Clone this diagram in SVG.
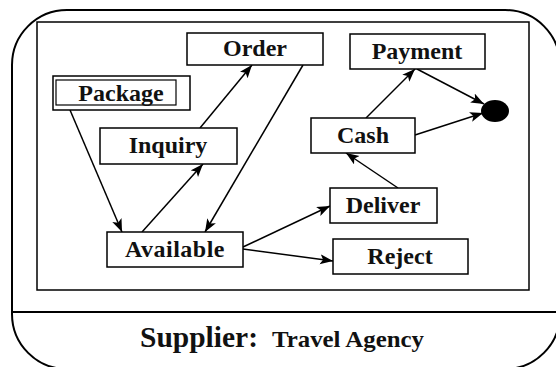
<svg xmlns="http://www.w3.org/2000/svg" width="556" height="367" viewBox="0 0 556 367">
  <style>
    .frame { fill: none; stroke: #000; stroke-width: 2; }
    .box { fill: #fff; stroke: #000; stroke-width: 1.5; }
    .label { font-family: "Liberation Serif", "Times New Roman", serif; font-weight: bold; font-size: 24px; fill: #111; text-anchor: middle; }
    .caption { font-family: "Liberation Serif", "Times New Roman", serif; font-weight: bold; fill: #111; }
    .edge { fill: none; stroke: #000; stroke-width: 1.5; marker-end: url(#arrow); }
  </style>
  <defs>
    <marker id="arrow" markerUnits="userSpaceOnUse" markerWidth="14" markerHeight="12" refX="13" refY="5" orient="auto">
      <path d="M0,0 L13,5 L0,10 L3,5 Z" fill="#000"/>
    </marker>
  </defs>
  <rect width="556" height="367" fill="#fff"/>

  <!-- swimlane frame -->
  <g id="lane">
    <rect class="frame" x="12" y="10" width="548" height="359" rx="55" ry="55"/>
    <line x1="12" y1="312" x2="560" y2="312" stroke="#000" stroke-width="2"/>
    <rect fill="none" stroke="#000" stroke-width="1.5" x="37" y="22" width="492" height="268"/>
    <text class="caption" x="140" y="347" font-size="29" textLength="118" lengthAdjust="spacingAndGlyphs">Supplier:</text>
    <text class="caption" x="272" y="347" font-size="23" textLength="152" lengthAdjust="spacingAndGlyphs">Travel Agency</text>
  </g>

  <!-- connectors -->
  <g id="connectors">
    <line class="edge" x1="70" y1="110" x2="122" y2="232"/>
    <line class="edge" x1="142" y1="232" x2="203" y2="164"/>
    <line class="edge" x1="200" y1="128" x2="252" y2="65"/>
    <line class="edge" x1="303" y1="65" x2="205" y2="232"/>
    <line class="edge" x1="243" y1="247" x2="330" y2="206"/>
    <line class="edge" x1="243" y1="249" x2="333" y2="261"/>
    <line class="edge" x1="398" y1="188" x2="346" y2="153"/>
    <line class="edge" x1="366" y1="118" x2="415" y2="69"/>
    <line class="edge" x1="417" y1="69" x2="484" y2="104"/>
    <line class="edge" x1="415" y1="135" x2="483" y2="113"/>
  </g>

  <!-- activity nodes -->
  <g id="order">
    <rect class="box" x="187" y="33" width="136" height="32"/>
    <text class="label" x="255" y="56">Order</text>
  </g>
  <g id="package">
    <rect class="box" x="53" y="76" width="137" height="34"/>
    <rect fill="none" stroke="#000" stroke-width="1.2" x="56" y="80" width="120" height="25"/>
    <text class="label" x="121" y="101">Package</text>
  </g>
  <g id="inquiry">
    <rect class="box" x="100" y="128" width="137" height="36"/>
    <text class="label" x="168" y="153">Inquiry</text>
  </g>
  <g id="payment">
    <rect class="box" x="350" y="34" width="135" height="35"/>
    <text class="label" x="417" y="59">Payment</text>
  </g>
  <g id="cash">
    <rect class="box" x="311" y="118" width="104" height="35"/>
    <text class="label" x="363" y="143">Cash</text>
  </g>
  <g id="final">
    <ellipse cx="495" cy="111" rx="14" ry="11" fill="#000"/>
  </g>
  <g id="available">
    <rect class="box" x="107" y="232" width="136" height="35"/>
    <text class="label" x="175" y="257" letter-spacing="0.5">Available</text>
  </g>
  <g id="deliver">
    <rect class="box" x="330" y="188" width="107" height="35"/>
    <text class="label" x="383" y="213">Deliver</text>
  </g>
  <g id="reject">
    <rect class="box" x="333" y="239" width="135" height="35"/>
    <text class="label" x="400" y="264">Reject</text>
  </g>
</svg>
